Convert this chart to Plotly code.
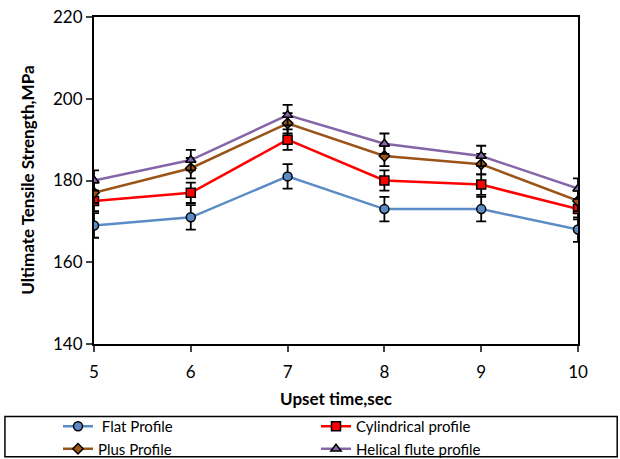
import plotly.graph_objects as go

upset_time = [5, 6, 7, 8, 9, 10]
flat = [169, 171, 181, 173, 173, 168]
cylindrical = [175, 177, 190, 180, 179, 173]
plus = [177, 183, 194, 186, 184, 175]
helical = [180, 185, 196, 189, 186, 178]
err_flat = [3, 3, 3, 3, 3, 3]
err_other = [2.5, 2.5, 2.5, 2.5, 2.5, 2.5]
y_title = "<b>Ultimate Tensile Strength,MPa</b>"
x_title = "<b>Upset time,sec</b>"

series = [
    (" Flat Profile", flat, err_flat, "#5B8BC6", "circle", 9, "legend"),
    ("Cylindrical profile", cylindrical, err_other, "#FF0000", "square", 9, "legend2"),
    ("Plus Profile", plus, err_other, "#9A5418", "diamond", 8, "legend"),
    ("Helical flute profile", helical, err_other, "#8466A8", "triangle-up", 9, "legend2"),
]

fig = go.Figure()
for name, vals, err, lc, sym, ms, lg in series:
    fig.add_trace(go.Scatter(
        x=upset_time, y=vals, name=name, mode="lines+markers", legend=lg,
        line=dict(color=lc, width=2.5),
        marker=dict(symbol=sym, size=ms, color=lc, line=dict(color="black", width=1.5)),
        error_y=dict(type="data", array=err, visible=True, color="black", thickness=1.8, width=5),
    ))

leg_common = dict(
    orientation="v", xref="container", yref="container",
    xanchor="left", yanchor="top", font=dict(size=15), tracegroupgap=0,
    itemsizing="trace", bgcolor="rgba(0,0,0,0)",
)
fig.update_layout(
    width=620, height=459,
    margin=dict(l=94, r=42, t=17, b=115, autoexpand=False),
    paper_bgcolor="white", plot_bgcolor="white",
    font=dict(family="Lato, Open Sans, sans-serif", size=15, color="black"),
    showlegend=True,
    legend=dict(x=58 / 620, y=1 - 410 / 459, **leg_common),
    legend2=dict(x=316 / 620, y=1 - 410 / 459, **leg_common),
    shapes=[dict(type="rect", xref="paper", yref="paper",
                 x0=-0.184, x1=1.081, y0=-0.222, y1=-0.345,
                 line=dict(color="black", width=1.5))],
    annotations=[dict(text=y_title, textangle=-90, xref="paper", yref="paper",
                      x=-0.138, y=0.5, xanchor="center", yanchor="middle",
                      showarrow=False, font=dict(size=17))],
)
fig.update_xaxes(
    range=[5, 10], tickvals=upset_time, ticks="outside", ticklen=6, tickwidth=2,
    ticklabelstandoff=6, tickfont=dict(size=17),
    showline=True, linecolor="black", linewidth=2, mirror=True, showgrid=False, zeroline=False,
    title=dict(text=x_title, font=dict(size=17), standoff=12),
)
fig.update_yaxes(
    range=[140, 220], dtick=20, ticks="outside", ticklen=6, tickwidth=2,
    tickfont=dict(size=17),
    showline=True, linecolor="black", linewidth=2, mirror=True, showgrid=False, zeroline=False,
)
fig.write_html("out.html")
